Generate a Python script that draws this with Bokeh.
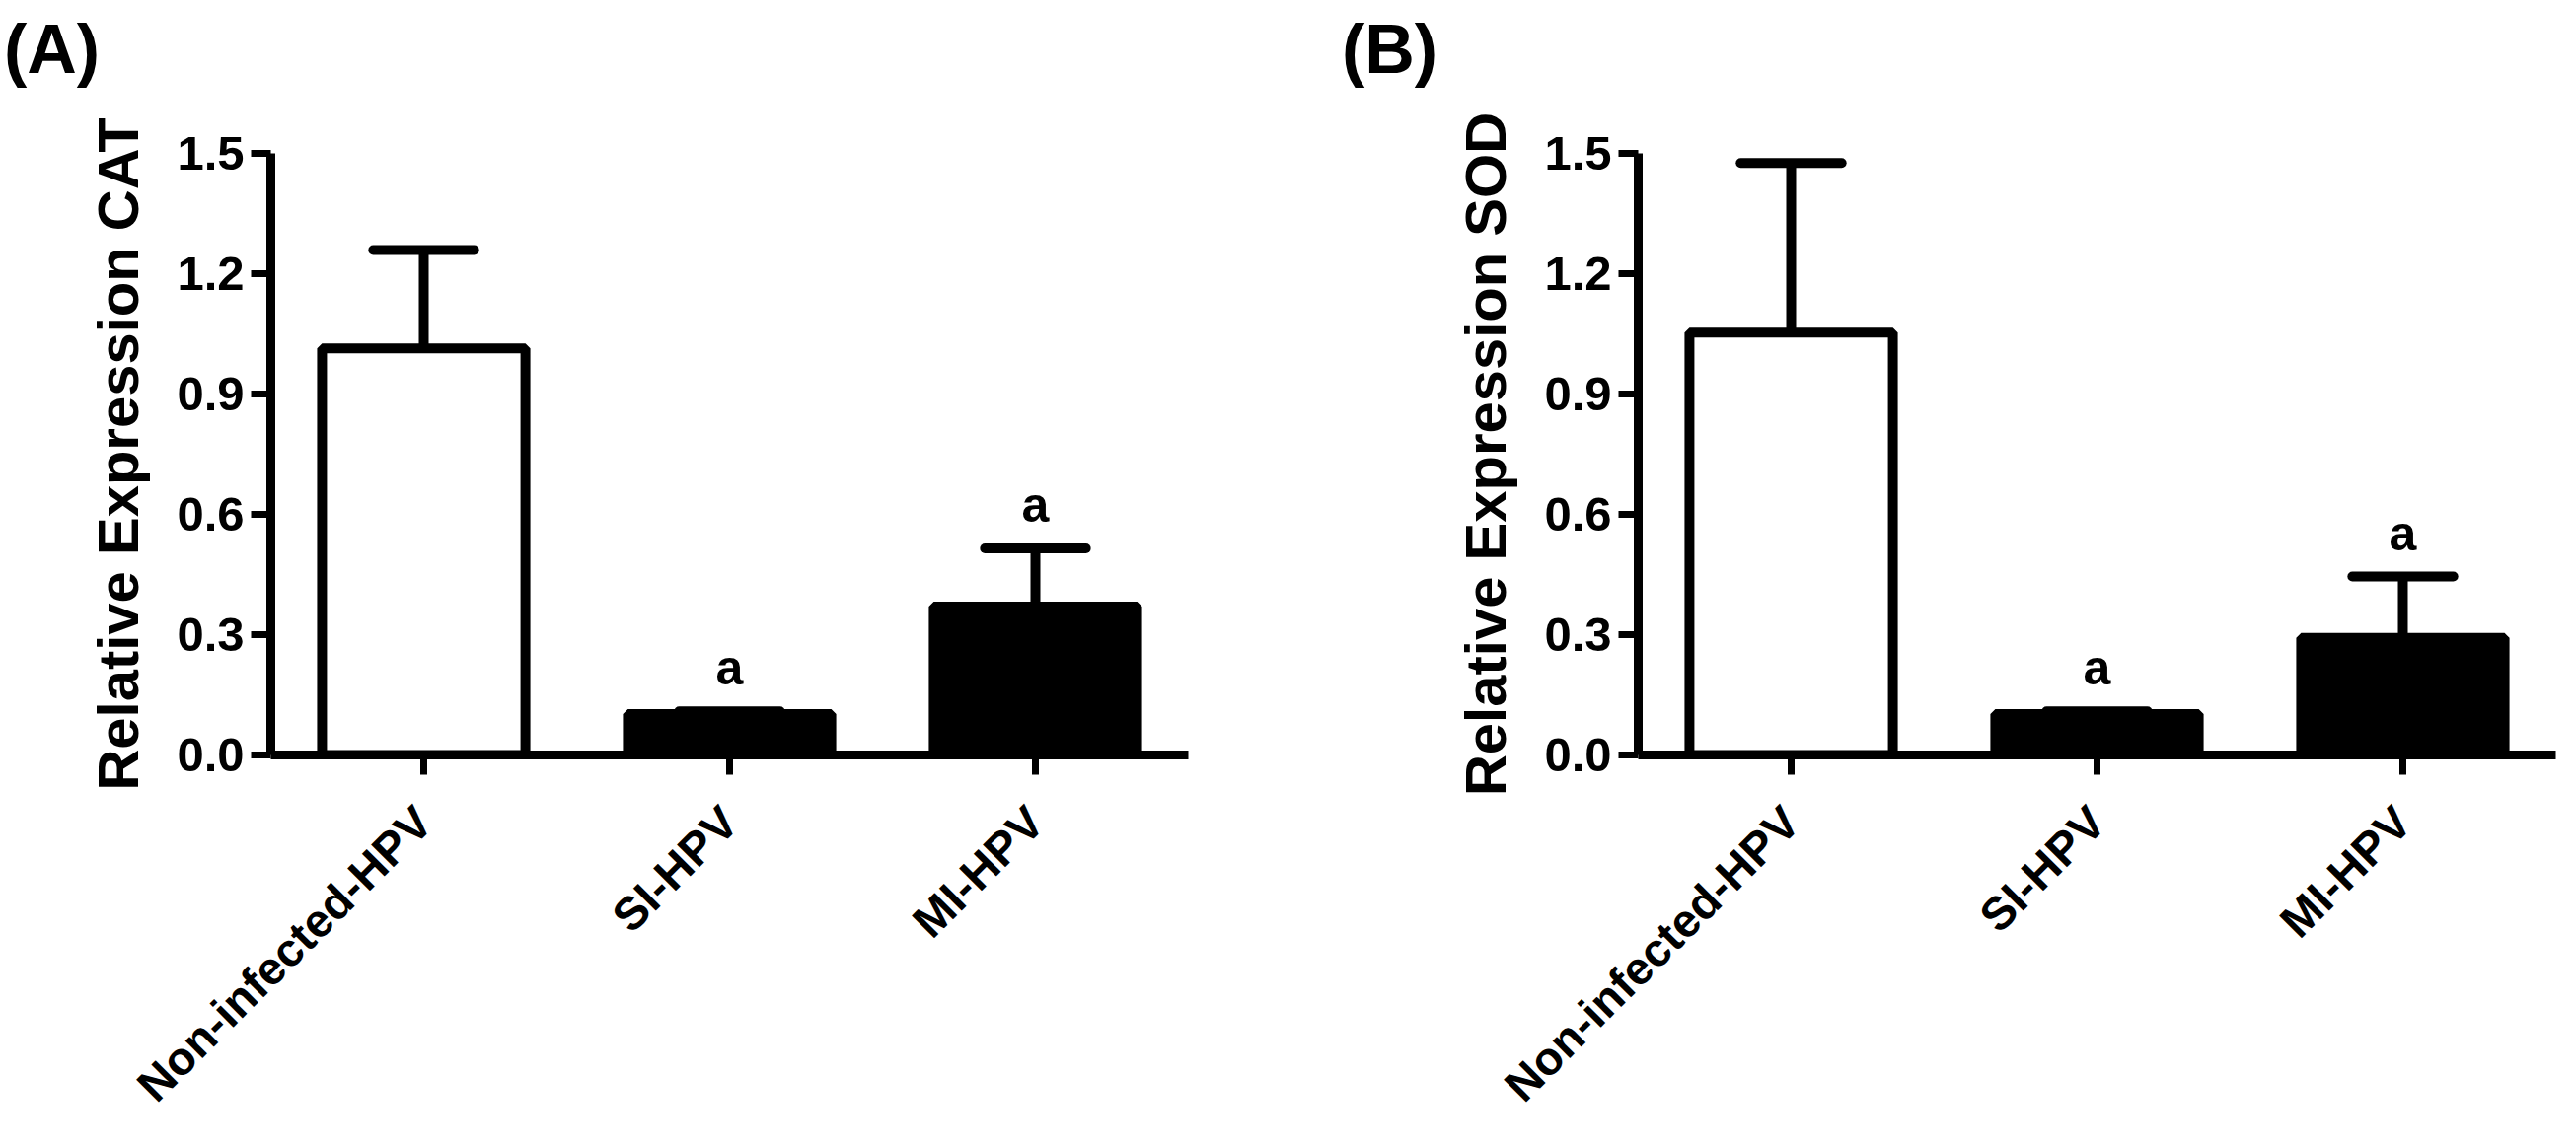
import math
from bokeh.plotting import figure
from bokeh.layouts import row, column
from bokeh.models import FixedTicker, Range1d, PrintfTickFormatter, Div
from bokeh.core.properties import value
from bokeh.embed import file_html
from bokeh.resources import INLINE

# ---- data ----
categories = ["Non-infected-HPV", "SI-HPV", "MI-HPV"]
cat_mean = [1.014, 0.102, 0.370]
cat_sem = [0.245, 0.007, 0.145]
sod_mean = [1.053, 0.102, 0.292]
sod_sem = [0.423, 0.007, 0.153]
bar_fill = ["white", "black", "black"]
sig_letters = ["", "a", "a"]
y_ticks = [0.0, 0.3, 0.6, 0.9, 1.2, 1.5]
panel_tags = ["(A)", "(B)"]
y_titles = ["Relative Expression CAT", "Relative Expression SOD"]

FONT = "Liberation Sans"
TAG_H = 100


def make_tag(tag, width):
    return Div(text=tag, width=width, height=TAG_H,
               styles={"font-family": "'Liberation Sans', Arial, sans-serif",
                       "font-weight": "bold", "font-size": "70px",
                       "line-height": "101px", "padding-left": "4px",
                       "margin": "0", "color": "black"})


def make_panel(mean, sem, ytitle, width, min_left, min_right):
    xs = list(range(len(categories)))
    p = figure(width=width, height=1148 - TAG_H,
               x_range=Range1d(-0.5, len(categories) - 0.5),
               y_range=Range1d(0, 1.5),
               output_backend="svg", toolbar_location=None,
               min_border_left=min_left, min_border_right=min_right,
               min_border_top=55, min_border_bottom=376)
    p.outline_line_color = None
    p.xgrid.visible = False
    p.ygrid.visible = False
    p.background_fill_color = "white"
    p.border_fill_color = "white"

    p.vbar(x=xs, top=mean, width=0.665, bottom=0,
           fill_color=bar_fill, line_color="black", line_width=10)

    tops = [m + s for m, s in zip(mean, sem)]
    p.segment(x0=xs, y0=mean, x1=xs, y1=tops, line_color="black", line_width=10)
    p.segment(x0=[x - 0.165 for x in xs], y0=tops, x1=[x + 0.165 for x in xs], y1=tops,
              line_color="black", line_width=10, line_cap="round")

    lx = [x for x, l in zip(xs, sig_letters) if l]
    ly = [t for t, l in zip(tops, sig_letters) if l]
    lt = [l for l in sig_letters if l]
    p.text(x=lx, y=ly, text=lt, text_font=value(FONT), text_font_style="bold",
           text_font_size="50px", text_align="center", text_baseline="alphabetic",
           y_offset=-44, text_color="black")

    # x axis
    xa = p.xaxis[0]
    xa.ticker = FixedTicker(ticks=xs)
    xa.major_label_overrides = {i: c for i, c in enumerate(categories)}
    xa.major_label_orientation = math.pi / 4
    xa.axis_line_width = 9
    xa.axis_line_color = "black"
    xa.major_tick_line_width = 7
    xa.major_tick_in = 0
    xa.major_tick_out = 20
    xa.minor_tick_line_color = None
    xa.major_label_text_font = FONT
    xa.major_label_text_font_style = "bold"
    xa.major_label_text_font_size = "47px"
    xa.major_label_text_color = "black"
    xa.major_label_standoff = 40

    # y axis
    ya = p.yaxis[0]
    ya.ticker = FixedTicker(ticks=y_ticks)
    ya.formatter = PrintfTickFormatter(format="%.1f")
    ya.axis_line_width = 9
    ya.axis_line_color = "black"
    ya.major_tick_line_width = 7
    ya.major_tick_in = 0
    ya.major_tick_out = 20
    ya.minor_tick_line_color = None
    ya.major_label_text_font = FONT
    ya.major_label_text_font_style = "bold"
    ya.major_label_text_font_size = "49px"
    ya.major_label_text_color = "black"
    ya.major_label_standoff = 7
    ya.axis_label = ytitle
    ya.axis_label_text_font = FONT
    ya.axis_label_text_font_style = "bold"
    ya.axis_label_text_font_size = "58px"
    ya.axis_label_text_color = "black"
    ya.axis_label_standoff = 24
    return p


wA, wB = 1356, 1239
pA = make_panel(cat_mean, cat_sem, y_titles[0], wA, 274, 152)
pB = make_panel(sod_mean, sod_sem, y_titles[1], wB, 304, 5)
tA = make_tag(panel_tags[0], wA)
tB = make_tag(panel_tags[1], wB)

layout = row(column(tA, pA), column(tB, pB))
open("out.html", "w").write(file_html(layout, INLINE))
